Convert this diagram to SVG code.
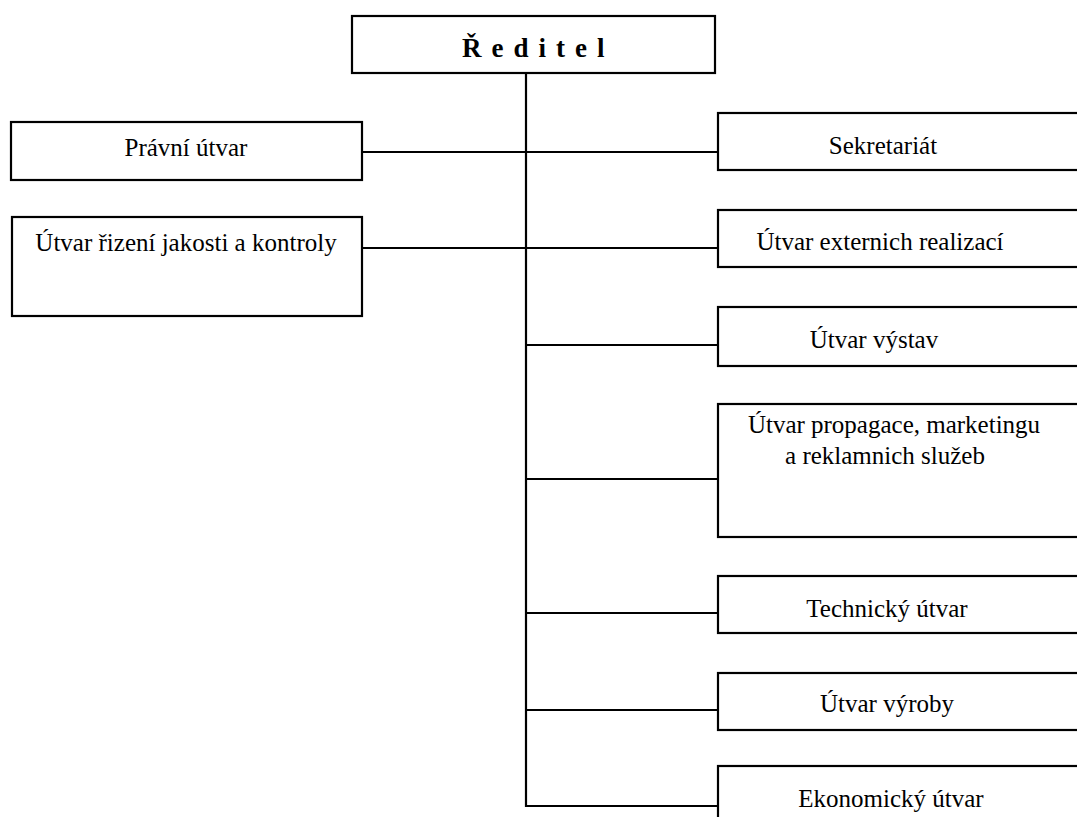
<svg xmlns="http://www.w3.org/2000/svg" width="1077" height="817" viewBox="0 0 1077 817">
<style>
.box{fill:#fff;stroke:#000;stroke-width:2.2}
.con{fill:none;stroke:#000;stroke-width:2.2}
.t{font-family:"Liberation Serif","Times New Roman",serif;font-size:25px;fill:#000;text-anchor:middle}
.h{font-family:"Liberation Serif","Times New Roman",serif;font-size:27px;font-weight:bold;fill:#000;letter-spacing:10px}
</style>
<rect width="1077" height="817" fill="#fff"/>
<g id="connectors">
<line class="con" x1="526" y1="73" x2="526" y2="807"/>
<line class="con" x1="362" y1="152" x2="718" y2="152"/>
<line class="con" x1="362" y1="248" x2="718" y2="248"/>
<line class="con" x1="526" y1="345" x2="718" y2="345"/>
<line class="con" x1="526" y1="479" x2="718" y2="479"/>
<line class="con" x1="526" y1="613" x2="718" y2="613"/>
<line class="con" x1="526" y1="710" x2="718" y2="710"/>
<line class="con" x1="526" y1="806" x2="718" y2="806"/>
</g>
<g id="reditel">
<rect class="box" x="352" y="16" width="363" height="57"/>
<text class="h" x="462" y="57">Ředitel</text>
</g>
<g id="pravni">
<rect class="box" x="11" y="122" width="351" height="58"/>
<text class="t" x="186" y="156">Právní útvar</text>
</g>
<g id="jakost">
<rect class="box" x="12" y="217" width="350" height="99"/>
<text class="t" x="186" y="251">Útvar řizení jakosti a kontroly</text>
</g>
<g id="sekretariat">
<rect class="box" x="718" y="113" width="380" height="57"/>
<text class="t" x="883" y="154">Sekretariát</text>
</g>
<g id="externi">
<rect class="box" x="718" y="210" width="380" height="57"/>
<text class="t" x="880" y="250">Útvar externich realizací</text>
</g>
<g id="vystav">
<rect class="box" x="718" y="307" width="380" height="59"/>
<text class="t" x="874" y="348">Útvar výstav</text>
</g>
<g id="propagace">
<rect class="box" x="718" y="404" width="380" height="133"/>
<text class="t" x="894" y="433">Útvar propagace, marketingu</text>
<text class="t" x="885" y="464">a reklamnich služeb</text>
</g>
<g id="technicky">
<rect class="box" x="718" y="576" width="380" height="57"/>
<text class="t" x="887" y="617">Technický útvar</text>
</g>
<g id="vyroby">
<rect class="box" x="718" y="673" width="380" height="57"/>
<text class="t" x="887" y="712">Útvar výroby</text>
</g>
<g id="ekonomicky">
<rect class="box" x="718" y="766" width="380" height="80"/>
<text class="t" x="891" y="807">Ekonomický útvar</text>
</g>
</svg>
